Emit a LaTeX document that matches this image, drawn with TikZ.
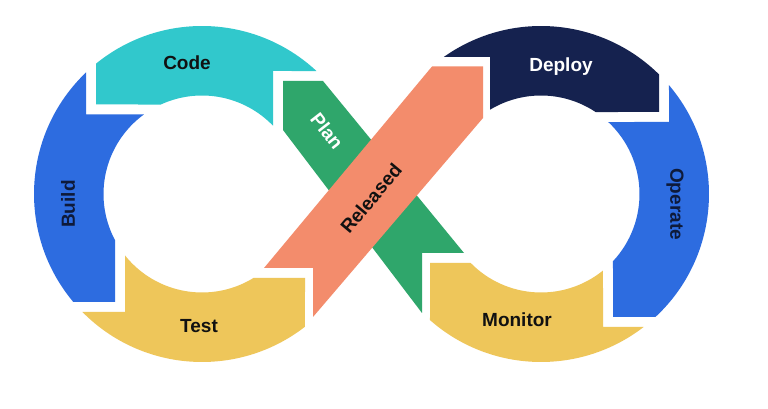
\documentclass[tikz,border=0pt]{standalone}
\usepackage{fontspec}
\setmainfont{Liberation Sans}
\definecolor{cCode}{HTML}{31C8CC}
\definecolor{cBlue}{HTML}{2D6CE0}
\definecolor{cYel}{HTML}{EEC65A}
\definecolor{cGreen}{HTML}{2FA66B}
\definecolor{cSalmon}{HTML}{F38C6C}
\definecolor{cNavy}{HTML}{15224F}
\definecolor{cInk}{HTML}{111111}
\definecolor{cInkNavy}{HTML}{0E1A3A}
\tikzset{
  lbl/.style={font=\fontsize{19}{22}\selectfont\bfseries, inner sep=0pt, text=cInk},
  lblw/.style={lbl, text=white},
  lbln/.style={lbl, text=cInkNavy}
}
\begin{document}
\begin{tikzpicture}[x=1pt,y=1pt]
\fill[white] (0,0) rectangle (768,409);
\useasboundingbox (0,0) rectangle (768,409);
\coordinate (C1) at (202,215);
\coordinate (C2) at (541,215);
% left ring
\fill[cBlue] ([shift={(C1)}]133.67:168) arc[start angle=133.67, end angle=220.0, radius=168] -- (115,107) -- ([shift={(C1)}]207.97:98.5) arc[start angle=207.97, end angle=126.18, radius=98.5] -- (86,294.5) -- cycle;
\fill[cCode] ([shift={(C1)}]129.12:168) arc[start angle=129.12, end angle=47.06, radius=168] -- (273,338) -- ([shift={(C1)}]43.88:98.5) arc[start angle=43.88, end angle=114.69, radius=98.5] -- (96,304.5) -- cycle;
\fill[cYel] ([shift={(C1)}]224.62:168) arc[start angle=224.62, end angle=307.81, radius=168] -- (305,131) -- ([shift={(C1)}]301.48:98.5) arc[start angle=301.48, end angle=218.58, radius=98.5] -- (125,97) -- cycle;
% right ring
\fill[cNavy] ([shift={(C2)}]125.36:168) arc[start angle=125.36, end angle=45.38, radius=168] -- (659,297) -- ([shift={(C2)}]56.35:98.5) arc[start angle=56.35, end angle=121.18, radius=98.5] -- (490,352) -- cycle;
\fill[cBlue] ([shift={(C2)}]40.37:168) arc[start angle=40.37, end angle=-47.06, radius=168] -- (613,92) -- ([shift={(C2)}]-43.04:98.5) arc[start angle=-43.04, end angle=46.96, radius=98.5] -- (669,287) -- cycle;
\fill[cYel] ([shift={(C2)}]-52.33:168) arc[start angle=-52.33, end angle=-131.36, radius=168] -- (430,146) -- ([shift={(C2)}]-135.53:98.5) arc[start angle=-135.53, end angle=-51.0, radius=98.5] -- (603,82) -- cycle;
% bands
\fill[cGreen] (283,328) -- (323,328) -- (464,156) -- (422,156) -- (422,96) -- (283,279) -- cycle;
\fill[cSalmon] (432,342.5) -- (483,342.5) -- (483,291) -- (313,92) -- (313,141) -- (264,141) -- cycle;
% labels
\node[lbl, anchor=base] (code) at (187,339) {Code};
\node[lbln, rotate=90] (build) at (68,205) {Build};
\node[lbl, anchor=base] (test) at (199,76) {Test};
\node[lblw, rotate=-52] (plan) at (327,278) {Plan};
\node[lbl, rotate=50] (released) at (371,210.5) {Released};
\node[lblw, anchor=base] (deploy) at (561,337) {Deploy};
\node[lbln, rotate=-90] (operate) at (675,205) {Operate};
\node[lbl, anchor=base] (monitor) at (517,82) {Monitor};
\end{tikzpicture}
\end{document}
